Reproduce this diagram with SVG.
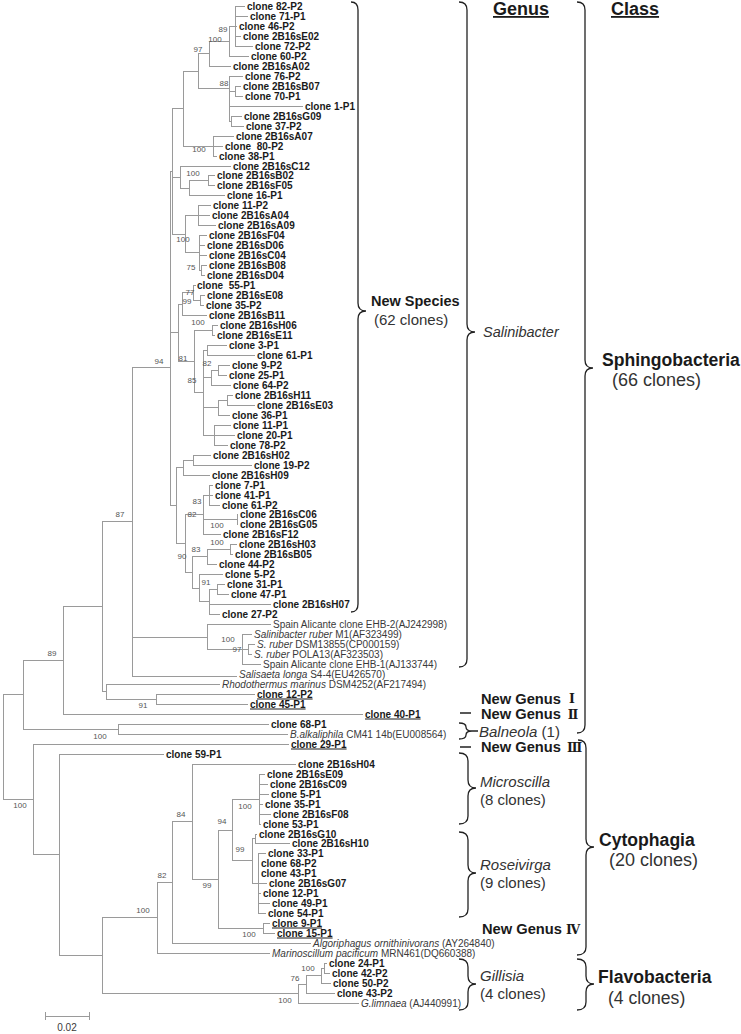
<svg xmlns="http://www.w3.org/2000/svg" width="741" height="1034" viewBox="0 0 741 1034">
<style>
.t{font-family:"Liberation Sans",Arial,sans-serif;font-size:10px;font-weight:bold;fill:#1a1a1a}
.r{font-family:"Liberation Sans",Arial,sans-serif;font-size:10px;fill:#3a3a3a}
.u{text-decoration:underline}
.i{font-style:italic}
.p{white-space:pre}
.bs{font-family:"Liberation Sans",Arial,sans-serif;font-size:8px;fill:#555;text-anchor:middle}
.tree{fill:none;stroke:#9a9a9a;stroke-width:1;shape-rendering:crispEdges}
.brace{fill:none;stroke:#222;stroke-width:1.3}
.gl{font-family:"Liberation Sans",Arial,sans-serif;font-size:15px;fill:#333}
.gb{font-family:"Liberation Sans",Arial,sans-serif;font-size:14.7px;font-weight:bold;fill:#1a1a1a}
.rn{font-family:"DejaVu Serif","DejaVu Sans","Noto Sans CJK JP",serif;font-size:12.5px;font-weight:bold;fill:#1a1a1a;text-anchor:middle}
.cb{font-family:"Liberation Sans",Arial,sans-serif;font-size:17.6px;font-weight:bold;fill:#1a1a1a}
.cl{font-family:"Liberation Sans",Arial,sans-serif;font-size:18px;fill:#333}
.hd{font-family:"Liberation Sans",Arial,sans-serif;font-size:18px;font-weight:bold;fill:#1a1a1a;text-decoration:underline}
</style>
<g id="connectors" class="tree">
<path d="M235,6V46M235,6H245M235,16H248M235,26H237M235,36H241M235,46H253
M229,26V56M229,26H235M229,56H249
M209,41V66M209,41H229M209,66H231
M235,86V96M235,86H241M235,96H243
M231,116V126M231,116H242M231,126H244
M229,76V121M229,76H243M229,91H235M229,106H303M229,121H231
M198,53V88M198,53H209M198,88H229
M213,136V156M213,136H234M213,146H223M213,156H217
M183,71V146M183,71H198M183,146H213
M208,175V185M208,175H215M208,185H215
M189,180V195M189,180H208M189,195H225
M180,166V188M180,166H231M180,188H189
M198,205V225M198,205H211M198,215H210M198,225H216
M201,265V275M201,265H207M201,275H205
M199,235V270M199,235H207M199,245H205M199,255H207M199,270H201
M185,215V252M185,215H198M185,252H199
M172,108V234M172,108H183M172,177H180M172,234H185"/>
<path d="M200,295V305M200,295H205M200,305H204
M193,285V300M193,285H196M193,300H200
M182,292V315M182,292H193M182,315H207
M212,325V335M212,325H218M212,335H215
M207,345V355M207,345H227M207,355H255
M218,365V375M218,365H230M218,375H227
M211,370V385M211,370H218M211,385H231
M227,395V405M227,395H233M227,405H255
M218,400V415M218,400H227M218,415H230
M214,425V445M214,425H231M214,435H235M214,445H228
M203,350V435M203,350H207M203,377H211M203,407H218M203,435H214
M194,330V392M194,330H212M194,392H203
M178,304V361M178,304H182M178,361H194"/>
<path d="M193,455V465M193,455H211M193,465H252
M183,460V475M183,460H193M183,475H210
M209,485V505M209,485H213M209,495H213M209,505H220
M237,514V524M237,514H238M237,524H238
M203,495V534M203,495H209M203,519H237M203,534H221
M230,544V554M230,544H237M230,554H233
M207,549V564M207,549H230M207,564H217
M217,584V594M217,584H225M217,594H229
M209,589V614M209,589H217M209,604H271M209,614H220
M199,574V601M199,574H223M199,601H209
M192,556V588M192,556H207M192,588H199
M185,514V572M185,514H203M185,572H192
M176,467V543M176,467H183M176,543H185
M170,171V505M170,171H172M170,332H178M170,505H176"/>
<path d="M248,644V654M248,644H255M248,654H252
M242,634V664M242,634H252M242,649H248M242,664H261
M207,624V649M207,624H271M207,649H242
M132,367V676M132,367H170M132,637H207M132,676H237
M156,694V704M156,694H255M156,704H248
M106,684V699M106,684H220M106,699H156
M102,521V691M102,521H132M102,691H106
M63,606V714M63,606H102M63,714H363
M118,724V734M118,724H269M118,734H288
M23,660V729M23,660H63M23,729H118"/>
<path d="M259,774V824M259,774H265M259,784H268M259,794H269M259,804H263M259,814H271M259,824H261
M255,834V843M255,834H257M255,843H290
M258,853V913M258,853H266M258,863H259M258,873H259M258,883H267M258,893H261M258,903H270M258,913H266
M252,838V883M252,838H255M252,883H258
M232,799V860M232,799H259M232,860H252
M263,923V933M263,923H270M263,933H275
M218,830V928M218,830H232M218,928H263
M192,764V879M192,764H296M192,879H218
M172,821V943M172,821H192M172,943H311
M157,882V953M157,882H172M157,953H270
M324,963V973M324,963H327M324,973H330
M321,968V983M321,968H324M321,983H331
M306,975V993M306,975H321M306,993H335
M298,984V1003M298,984H306M298,1003H359
M102,917V993M102,917H157M102,993H298
M59,754V955M59,754H164M59,955H102
M33,744V854M33,744H289M33,854H59
M3,694V799M3,694H23M3,799H33"/>
<path d="M45,1016H89M45,1012V1020M89,1012V1020"/>
</g>
<g id="bootstrap">
<text class="bs" x="223" y="32">89</text><text class="bs" x="215" y="42">100</text><text class="bs" x="198" y="52">97</text><text class="bs" x="224" y="86">88</text>
<text class="bs" x="199" y="152">100</text><text class="bs" x="193" y="176">100</text><text class="bs" x="183" y="242">100</text><text class="bs" x="191" y="270">75</text>
<text class="bs" x="190" y="295">77</text><text class="bs" x="187" y="304">99</text><text class="bs" x="198" y="325">100</text><text class="bs" x="159" y="364">94</text>
<text class="bs" x="183" y="361">81</text><text class="bs" x="207" y="366">82</text><text class="bs" x="192" y="383">85</text><text class="bs" x="120" y="517">87</text>
<text class="bs" x="197" y="504">83</text><text class="bs" x="192" y="517">82</text><text class="bs" x="217" y="528">100</text><text class="bs" x="217" y="545">100</text>
<text class="bs" x="196" y="552">83</text><text class="bs" x="182" y="559">90</text><text class="bs" x="206" y="585">91</text><text class="bs" x="228" y="642">100</text>
<text class="bs" x="237" y="652">97</text><text class="bs" x="52" y="656">89</text><text class="bs" x="143" y="708">91</text><text class="bs" x="100" y="739">100</text>
<text class="bs" x="20" y="808">100</text><text class="bs" x="181" y="817">84</text><text class="bs" x="245" y="809">100</text><text class="bs" x="222" y="824">94</text>
<text class="bs" x="240" y="852">99</text><text class="bs" x="162" y="878">82</text><text class="bs" x="207" y="888">99</text><text class="bs" x="143" y="913">100</text>
<text class="bs" x="249" y="937">100</text><text class="bs" x="308" y="971">100</text><text class="bs" x="295" y="981">76</text><text class="bs" x="285" y="1003">100</text>
</g>
<g id="leaf0"><text class="t" x="247" y="9.5">clone 82-P2</text></g>
<g id="leaf1"><text class="t" x="250" y="19.5">clone 71-P1</text></g>
<g id="leaf2"><text class="t" x="239" y="29.5">clone 46-P2</text></g>
<g id="leaf3"><text class="t" x="243" y="39.5">clone 2B16sE02</text></g>
<g id="leaf4"><text class="t" x="255" y="49.5">clone 72-P2</text></g>
<g id="leaf5"><text class="t" x="251" y="59.5">clone 60-P2</text></g>
<g id="leaf6"><text class="t" x="233" y="69.5">clone 2B16sA02</text></g>
<g id="leaf7"><text class="t" x="245" y="79.5">clone 76-P2</text></g>
<g id="leaf8"><text class="t" x="243" y="89.5">clone 2B16sB07</text></g>
<g id="leaf9"><text class="t" x="245" y="99.5">clone 70-P1</text></g>
<g id="leaf10"><text class="t" x="305" y="109.5">clone 1-P1</text></g>
<g id="leaf11"><text class="t" x="244" y="119.5">clone 2B16sG09</text></g>
<g id="leaf12"><text class="t" x="246" y="129.5">clone 37-P2</text></g>
<g id="leaf13"><text class="t" x="236" y="139.5">clone 2B16sA07</text></g>
<g id="leaf14"><text class="t p" x="225" y="149.5">clone  80-P2</text></g>
<g id="leaf15"><text class="t" x="219" y="159.5">clone 38-P1</text></g>
<g id="leaf16"><text class="t" x="233" y="169.5">clone 2B16sC12</text></g>
<g id="leaf17"><text class="t" x="217" y="178.5">clone 2B16sB02</text></g>
<g id="leaf18"><text class="t" x="217" y="188.5">clone 2B16sF05</text></g>
<g id="leaf19"><text class="t" x="227" y="198.5">clone 16-P1</text></g>
<g id="leaf20"><text class="t" x="213" y="208.5">clone 11-P2</text></g>
<g id="leaf21"><text class="t" x="212" y="218.5">clone 2B16sA04</text></g>
<g id="leaf22"><text class="t" x="218" y="228.5">clone 2B16sA09</text></g>
<g id="leaf23"><text class="t" x="209" y="238.5">clone 2B16sF04</text></g>
<g id="leaf24"><text class="t" x="207" y="248.5">clone 2B16sD06</text></g>
<g id="leaf25"><text class="t" x="209" y="258.5">clone 2B16sC04</text></g>
<g id="leaf26"><text class="t" x="209" y="268.5">clone 2B16sB08</text></g>
<g id="leaf27"><text class="t" x="207" y="278.5">clone 2B16sD04</text></g>
<g id="leaf28"><text class="t p" x="197" y="288.5">clone  55-P1</text></g>
<g id="leaf29"><text class="t" x="207" y="298.5">clone 2B16sE08</text></g>
<g id="leaf30"><text class="t" x="206" y="308.5">clone 35-P2</text></g>
<g id="leaf31"><text class="t" x="209" y="318.5">clone 2B16sB11</text></g>
<g id="leaf32"><text class="t" x="220" y="328.5">clone 2B16sH06</text></g>
<g id="leaf33"><text class="t" x="217" y="338.5">clone 2B16sE11</text></g>
<g id="leaf34"><text class="t" x="229" y="348.5">clone 3-P1</text></g>
<g id="leaf35"><text class="t" x="257" y="358.5">clone 61-P1</text></g>
<g id="leaf36"><text class="t" x="232" y="368.5">clone 9-P2</text></g>
<g id="leaf37"><text class="t" x="229" y="378.5">clone 25-P1</text></g>
<g id="leaf38"><text class="t" x="233" y="388.5">clone 64-P2</text></g>
<g id="leaf39"><text class="t" x="235" y="398.5">clone 2B16sH11</text></g>
<g id="leaf40"><text class="t" x="257" y="408.5">clone 2B16sE03</text></g>
<g id="leaf41"><text class="t" x="232" y="418.5">clone 36-P1</text></g>
<g id="leaf42"><text class="t" x="233" y="428.5">clone 11-P1</text></g>
<g id="leaf43"><text class="t" x="237" y="438.5">clone 20-P1</text></g>
<g id="leaf44"><text class="t" x="230" y="448.5">clone 78-P2</text></g>
<g id="leaf45"><text class="t" x="213" y="458.5">clone 2B16sH02</text></g>
<g id="leaf46"><text class="t" x="254" y="468.5">clone 19-P2</text></g>
<g id="leaf47"><text class="t" x="212" y="478.5">clone 2B16sH09</text></g>
<g id="leaf48"><text class="t" x="215" y="488.5">clone 7-P1</text></g>
<g id="leaf49"><text class="t" x="215" y="498.5">clone 41-P1</text></g>
<g id="leaf50"><text class="t" x="222" y="508.5">clone 61-P2</text></g>
<g id="leaf51"><text class="t" x="240" y="517.5">clone 2B16sC06</text></g>
<g id="leaf52"><text class="t" x="240" y="527.5">clone 2B16sG05</text></g>
<g id="leaf53"><text class="t" x="223" y="537.5">clone 2B16sF12</text></g>
<g id="leaf54"><text class="t" x="239" y="547.5">clone 2B16sH03</text></g>
<g id="leaf55"><text class="t" x="235" y="557.5">clone 2B16sB05</text></g>
<g id="leaf56"><text class="t" x="219" y="567.5">clone 44-P2</text></g>
<g id="leaf57"><text class="t" x="225" y="577.5">clone 5-P2</text></g>
<g id="leaf58"><text class="t" x="227" y="587.5">clone 31-P1</text></g>
<g id="leaf59"><text class="t" x="231" y="597.5">clone 47-P1</text></g>
<g id="leaf60"><text class="t" x="273" y="607.5">clone 2B16sH07</text></g>
<g id="leaf61"><text class="t" x="222" y="617.5">clone 27-P2</text></g>
<g id="leaf62"><text class="r" x="273" y="627.5">Spain Alicante clone EHB-2(AJ242998)</text></g>
<g id="leaf63"><text class="r" x="254" y="637.5"><tspan class="i">Salinibacter ruber</tspan> M1(AF323499)</text></g>
<g id="leaf64"><text class="r" x="257" y="647.5"><tspan class="i">S. ruber</tspan> DSM13855(CP000159)</text></g>
<g id="leaf65"><text class="r" x="254" y="657.5"><tspan class="i">S. ruber</tspan> POLA13(AF323503)</text></g>
<g id="leaf66"><text class="r" x="263" y="667.5">Spain Alicante clone EHB-1(AJ133744)</text></g>
<g id="leaf67"><text class="r" x="239" y="677.5"><tspan class="i">Salisaeta longa</tspan> S4-4(EU426570)</text></g>
<g id="leaf68"><text class="r" x="222" y="687.5"><tspan class="i">Rhodothermus marinus</tspan> DSM4252(AF217494)</text></g>
<g id="leaf69"><text class="t u" x="257" y="697.5">clone 12-P2</text></g>
<g id="leaf70"><text class="t u" x="250" y="707.5">clone 45-P1</text></g>
<g id="leaf71"><text class="t u" x="365" y="717.5">clone 40-P1</text></g>
<g id="leaf72"><text class="t" x="271" y="727.5">clone 68-P1</text></g>
<g id="leaf73"><text class="r" x="290" y="737.5"><tspan class="i">B.alkaliphila</tspan> CM41 14b(EU008564)</text></g>
<g id="leaf74"><text class="t u" x="291" y="747.5">clone 29-P1</text></g>
<g id="leaf75"><text class="t" x="166" y="757.5">clone 59-P1</text></g>
<g id="leaf76"><text class="t" x="298" y="767.5">clone 2B16sH04</text></g>
<g id="leaf77"><text class="t" x="267" y="777.5">clone 2B16sE09</text></g>
<g id="leaf78"><text class="t" x="270" y="787.5">clone 2B16sC09</text></g>
<g id="leaf79"><text class="t" x="271" y="797.5">clone 5-P1</text></g>
<g id="leaf80"><text class="t" x="265" y="807.5">clone 35-P1</text></g>
<g id="leaf81"><text class="t" x="273" y="817.5">clone 2B16sF08</text></g>
<g id="leaf82"><text class="t" x="263" y="827.5">clone 53-P1</text></g>
<g id="leaf83"><text class="t" x="259" y="837.5">clone 2B16sG10</text></g>
<g id="leaf84"><text class="t" x="292" y="846.5">clone 2B16sH10</text></g>
<g id="leaf85"><text class="t" x="268" y="856.5">clone 33-P1</text></g>
<g id="leaf86"><text class="t" x="261" y="866.5">clone 68-P2</text></g>
<g id="leaf87"><text class="t" x="261" y="876.5">clone 43-P1</text></g>
<g id="leaf88"><text class="t" x="269" y="886.5">clone 2B16sG07</text></g>
<g id="leaf89"><text class="t" x="263" y="896.5">clone 12-P1</text></g>
<g id="leaf90"><text class="t" x="272" y="906.5">clone 49-P1</text></g>
<g id="leaf91"><text class="t" x="268" y="916.5">clone 54-P1</text></g>
<g id="leaf92"><text class="t u" x="272" y="926.5">clone 9-P1</text></g>
<g id="leaf93"><text class="t u" x="277" y="936.5">clone 15-P1</text></g>
<g id="leaf94"><text class="r" x="313" y="946.5"><tspan class="i">Algoriphagus ornithinivorans</tspan> (AY264840)</text></g>
<g id="leaf95"><text class="r" x="272" y="956.5"><tspan class="i">Marinoscillum pacificum</tspan> MRN461(DQ660388)</text></g>
<g id="leaf96"><text class="t" x="329" y="966.5">clone 24-P1</text></g>
<g id="leaf97"><text class="t" x="332" y="976.5">clone 42-P2</text></g>
<g id="leaf98"><text class="t" x="333" y="986.5">clone 50-P2</text></g>
<g id="leaf99"><text class="t" x="337" y="996.5">clone 43-P2</text></g>
<g id="leaf100"><text class="r" x="361" y="1006.5"><tspan class="i">G.limnaea</tspan> (AJ440991)</text></g>
<g id="scale"><text class="r" x="67" y="1031" text-anchor="middle">0.02</text></g>
<g id="headers"><text class="hd" x="493" y="15">Genus</text><text class="hd" x="611" y="15">Class</text></g>
<g id="braces" class="brace">
<path d="M351,2Q358,2 358,10V303Q358,311 366,311Q358,311 358,319V604Q358,612 351,612"/>
<path d="M459,2Q467,2 467,10V324Q467,332 475,332Q467,332 467,340V659Q467,667 459,667"/>
<path d="M577,2Q585,2 585,10V360Q585,368 593,368Q585,368 585,376V725Q585,733 577,733"/>
<path d="M460,713H471M460,747H471"/>
<path d="M459,723Q466,723 466,727Q466,731 472,731H478M472,731Q466,731 466,735Q466,739 459,739"/>
<path d="M459,753Q468,753 468,761V780Q468,788 476,788Q468,788 468,796V816Q468,824 459,824"/>
<path d="M459,832Q468,832 468,840V865Q468,873 476,873Q468,873 468,881V909Q468,917 459,917"/>
<path d="M459,959Q468,959 468,967V976Q468,984 476,984Q468,984 468,992V1002Q468,1010 459,1010"/>
<path d="M578,740Q586,740 586,748V839Q586,847 594,847Q586,847 586,855V947Q586,955 577,955"/>
<path d="M577,959Q586,959 586,967V976Q586,984 594,984Q586,984 586,992V1002Q586,1010 577,1010"/>
</g>
<g id="grp-newspecies"><text class="gb" x="371" y="306" style="font-size:14.5px">New Species</text><text class="gl" x="374" y="325">(62 clones)</text></g>
<g id="grp-salinibacter"><text class="gl i" x="483" y="337" style="font-size:14.5px">Salinibacter</text></g>
<g id="grp-sphingo"><text class="cb" x="602" y="366">Sphingobacteria</text><text class="cl" x="612" y="386">(66 clones)</text></g>
<g id="grp-ng1"><text class="gb" x="481" y="704">New Genus</text><text class="rn" x="572" y="703">Ⅰ</text></g>
<g id="grp-ng2"><text class="gb" x="481" y="719">New Genus</text><text class="rn" x="573" y="719">Ⅱ</text></g>
<g id="grp-balneola"><text class="gl" x="479" y="737"><tspan class="i">Balneola</tspan> (1)</text></g>
<g id="grp-ng3"><text class="gb" x="481" y="752">New Genus</text><text class="rn" x="574.5" y="752">Ⅲ</text></g>
<g id="grp-microscilla"><text class="gl i" x="480" y="787">Microscilla</text><text class="gl" x="480" y="805">(8 clones)</text></g>
<g id="grp-roseivirga"><text class="gl i" x="480" y="870">Roseivirga</text><text class="gl" x="480" y="888">(9 clones)</text></g>
<g id="grp-ng4"><text class="gb" x="482" y="934">New Genus</text><text class="rn" x="573" y="934">Ⅳ</text></g>
<g id="grp-cytophagia"><text class="cb" x="599" y="846">Cytophagia</text><text class="cl" x="609" y="866">(20 clones)</text></g>
<g id="grp-gillisia"><text class="gl i" x="480" y="981">Gillisia</text><text class="gl" x="480" y="999">(4 clones)</text></g>
<g id="grp-flavo"><text class="cb" x="598" y="983">Flavobacteria</text><text class="cl" x="608" y="1004" style="font-size:17.6px">(4 clones)</text></g>
</svg>
